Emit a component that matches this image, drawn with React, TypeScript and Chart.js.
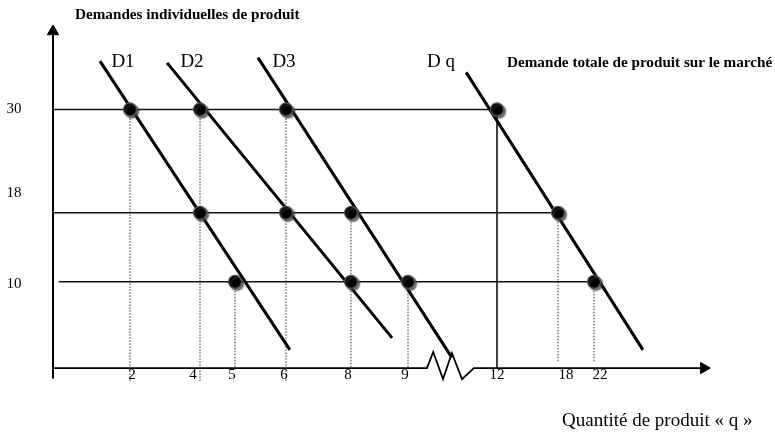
import { useEffect, useRef } from 'react';
import { Chart, registerables, LinearScale } from 'chart.js';

// ---------- data ----------
const priceLevels = [30, 18, 10];
const yTickLabels = ['30', '18', '10'];
const qTicks = [2, 4, 5, 6, 8, 9, 12, 18, 22];
const qTickLabels = ['2', '4', '5', '6', '8', '9', '12', '18', '22'];

// quantities demanded at each price level (30, 18, 10)
const d1Q = [2, 4, 5];
const d2Q = [4, 6, 8];
const d3Q = [6, 8, 9];
const dqQ = [12, 18, 22];

// demand line end points (quantity, price)
const d1LineQ = [1.22, 6.12];
const d1LineP = [35.6, 2.1];
const d2LineQ = [3.06, 8.72];
const d2LineP = [35.4, 3.5];
const d3LineQ = [5.45, 10.48];
const d3LineP = [36.0, 1.2];
const dqLineQ = [10.96, 27.44];
const dqLineP = [34.3, 2.1];

const curveNames = ['D1', 'D2', 'D3', 'D q'];

// horizontal price lines start
const hLineStartQ = [0, 0, 0.15];
// dotted drop lines
const dropQ = [2, 4, 6, 5, 8, 9, 18, 22];
const dropTopP = [30, 30, 30, 10, 18, 10, 18, 10];
const dropBottomP = [-1.6, -1.6, -1.6, 0, 0, 0, 0.7, 0.7];

// axes
const yAxisP = [-1.2, 39.2];
const yArrowP = 39.04;
const breakQ = [9.64, 9.85, 10.18, 10.48, 10.82, 11.22];
const breakP = [0, 1.86, -1.28, 1.74, -1.28, 0];
const xAxisEndQ = 34.2;

// ---------- broken (piecewise) quantity axis layout ----------
const BASE_W = 775;
const knotQ = [0, 2, 4, 5, 6, 8, 9, 12, 18, 22];
const knotPx = [53, 130, 200, 235, 286, 351, 408, 497, 558, 594];

function qToBase(q: number): number {
  const n = knotQ.length;
  if (q <= knotQ[0]) {
    const s = (knotPx[1] - knotPx[0]) / (knotQ[1] - knotQ[0]);
    return knotPx[0] + (q - knotQ[0]) * s;
  }
  for (let i = 1; i < n; i++) {
    if (q <= knotQ[i]) {
      const t = (q - knotQ[i - 1]) / (knotQ[i] - knotQ[i - 1]);
      return knotPx[i - 1] + t * (knotPx[i] - knotPx[i - 1]);
    }
  }
  const s = (knotPx[n - 1] - knotPx[n - 2]) / (knotQ[n - 1] - knotQ[n - 2]);
  return knotPx[n - 1] + (q - knotQ[n - 1]) * s;
}
function baseToQ(px: number): number {
  const n = knotQ.length;
  if (px <= knotPx[0]) {
    const s = (knotQ[1] - knotQ[0]) / (knotPx[1] - knotPx[0]);
    return knotQ[0] + (px - knotPx[0]) * s;
  }
  for (let i = 1; i < n; i++) {
    if (px <= knotPx[i]) {
      const t = (px - knotPx[i - 1]) / (knotPx[i] - knotPx[i - 1]);
      return knotQ[i - 1] + t * (knotQ[i] - knotQ[i - 1]);
    }
  }
  const s = (knotQ[n - 1] - knotQ[n - 2]) / (knotPx[n - 1] - knotPx[n - 2]);
  return knotQ[n - 1] + (px - knotPx[n - 1]) * s;
}

class PiecewiseScale extends LinearScale {
  static id = 'piecewise';
  static defaults = {};
  getPixelForValue(value: number) {
    return (this as any).left + (qToBase(value) / BASE_W) * (this as any).width;
  }
  getValueForPixel(pixel: number) {
    return baseToQ(((pixel - (this as any).left) / (this as any).width) * BASE_W);
  }
}

Chart.register(...registerables, PiecewiseScale as any);

const SERIF = '"Liberation Serif", "Times New Roman", serif';

const shadowPlugin = {
  id: 'dotShadow',
  beforeDatasetDraw(chart: any, args: any) {
    const ds = chart.data.datasets[args.index];
    if (ds._shadow) {
      const ctx = chart.ctx;
      ctx.save();
      ctx.shadowColor = 'rgba(60,60,60,0.75)';
      ctx.shadowOffsetX = 2;
      ctx.shadowOffsetY = 2;
      ctx.shadowBlur = 1.5;
    }
  },
  afterDatasetDraw(chart: any, args: any) {
    const ds = chart.data.datasets[args.index];
    if (ds._shadow) chart.ctx.restore();
  },
};

const yLabelDy = [0, -20, 2];
const qLabelDx = [2, -7, -3, -2, -3, -3, 0, 8, 6];
const curveLabelPos = [
  [123, 62],
  [192, 62],
  [284, 62],
  [441, 62],
];

const textPlugin = {
  id: 'diagramText',
  afterDraw(chart: any) {
    const { ctx } = chart;
    const xs = chart.scales.x;
    const ys = chart.scales.y;
    ctx.save();
    ctx.fillStyle = '#000';
    ctx.textBaseline = 'middle';
    ctx.textAlign = 'center';
    ctx.font = `15px ${SERIF}`;
    priceLevels.forEach((p, i) => {
      ctx.fillText(yTickLabels[i], 14, ys.getPixelForValue(p) + yLabelDy[i]);
    });
    const axisY = ys.getPixelForValue(0);
    qTicks.forEach((q, i) => {
      ctx.fillText(qTickLabels[i], xs.getPixelForValue(q) + qLabelDx[i], axisY + 7);
    });
    ctx.font = `19px ${SERIF}`;
    curveNames.forEach((n, i) => {
      ctx.fillText(n, curveLabelPos[i][0], curveLabelPos[i][1]);
    });
    ctx.textAlign = 'left';
    ctx.font = `bold 15.2px ${SERIF}`;
    ctx.fillText('Demandes individuelles de produit', 75, 15);
    ctx.fillText('Demande totale de produit sur le marché', 507, 63);
    ctx.font = `19px ${SERIF}`;
    ctx.fillText('Quantité de produit « q »', 562, 421);
    ctx.restore();
  },
};

function pts(qs: number[], ps: number[]) {
  return qs.map((q, i) => ({ x: q, y: ps[i] }));
}

export default function App() {
  const ref = useRef<HTMLCanvasElement | null>(null);
  useEffect(() => {
    document.body.style.margin = '0';
    const canvas = ref.current;
    if (!canvas) return;

    const lineBase = {
      showLine: true,
      pointRadius: 0,
      pointHoverRadius: 0,
      fill: false,
      tension: 0,
    };

    const datasets: any[] = [];

    // axes
    datasets.push({
      ...lineBase,
      data: pts([0, 0], yAxisP),
      borderColor: '#000',
      borderWidth: 2,
      order: 3,
    });
    datasets.push({
      ...lineBase,
      data: [{ x: 0, y: 0 }, ...pts(breakQ, breakP), { x: xAxisEndQ, y: 0 }],
      borderColor: '#000',
      borderWidth: 1.8,
      order: 3,
    });
    datasets.push({
      showLine: false,
      data: [{ x: 0, y: yArrowP }],
      pointStyle: 'triangle',
      pointRadius: 6.5,
      rotation: 0,
      backgroundColor: '#000',
      borderColor: '#000',
      borderWidth: 1,
      order: 3,
    });
    datasets.push({
      showLine: false,
      data: [{ x: xAxisEndQ, y: 0 }],
      pointStyle: 'triangle',
      pointRadius: 6.5,
      rotation: 90,
      backgroundColor: '#000',
      borderColor: '#000',
      borderWidth: 1,
      order: 3,
    });

    // horizontal price lines
    priceLevels.forEach((p, i) => {
      datasets.push({
        ...lineBase,
        data: [
          { x: hLineStartQ[i], y: p },
          { x: dqQ[i], y: p },
        ],
        borderColor: '#111',
        borderWidth: 1.5,
        order: 2,
      });
    });

    // dotted drop lines
    dropQ.forEach((q, i) => {
      datasets.push({
        ...lineBase,
        data: [
          { x: q, y: dropTopP[i] },
          { x: q, y: dropBottomP[i] },
        ],
        borderColor: '#333',
        borderWidth: 1,
        borderDash: [1.5, 1.5],
        order: 2,
      });
    });
    // solid market drop at q = 12
    datasets.push({
      ...lineBase,
      data: [
        { x: dqQ[0], y: priceLevels[0] },
        { x: dqQ[0], y: 0 },
      ],
      borderColor: '#000',
      borderWidth: 1.5,
      order: 2,
    });

    // demand curves
    [
      [d1LineQ, d1LineP],
      [d2LineQ, d2LineP],
      [d3LineQ, d3LineP],
      [dqLineQ, dqLineP],
    ].forEach(([qs, ps]) => {
      datasets.push({
        ...lineBase,
        data: pts(qs, ps),
        borderColor: '#000',
        borderWidth: 3,
        order: 1,
      });
    });

    // dots
    [d1Q, d2Q, d3Q, dqQ].forEach((qs) => {
      datasets.push({
        showLine: false,
        data: pts(qs, priceLevels),
        pointStyle: 'circle',
        pointRadius: 6.5,
        pointHoverRadius: 6.5,
        backgroundColor: '#000',
        borderColor: '#555',
        borderWidth: 1.2,
        _shadow: true,
        order: 0,
      });
    });

    const chart = new Chart(canvas, {
      type: 'scatter',
      data: { datasets },
      options: {
        animation: false,
        responsive: false,
        devicePixelRatio: 1,
        events: [],
        layout: { padding: 0, autoPadding: false },
        plugins: {
          legend: { display: false },
          tooltip: { enabled: false },
          title: { display: false },
        },
        scales: {
          x: { type: 'piecewise' as any, min: 0, max: 40, display: false },
          y: { type: 'linear', min: -7.42, max: 42.69, display: false },
        },
      },
      plugins: [shadowPlugin, textPlugin],
    } as any);
    return () => chart.destroy();
  }, []);

  return (
    <div style={{ width: 775, height: 432, background: '#fff' }}>
      <canvas ref={ref} width={775} height={432} style={{ display: 'block' }} />
    </div>
  );
}
